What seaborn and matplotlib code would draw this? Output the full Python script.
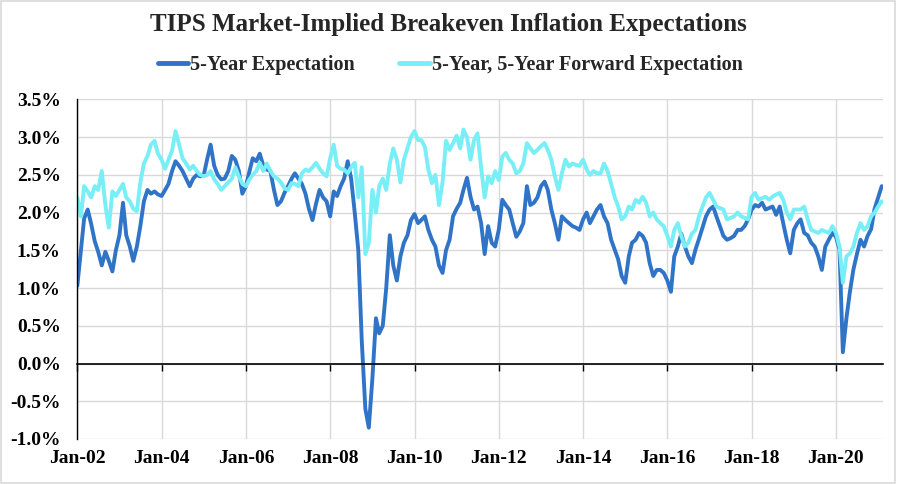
import matplotlib
matplotlib.use('Agg')
import pandas as pd
import matplotlib.pyplot as plt
import matplotlib.dates as mdates
from matplotlib.lines import Line2D
from matplotlib.patches import Rectangle
from matplotlib.ticker import FuncFormatter, MultipleLocator
import seaborn as sns

# Monthly readings (first of month), Jan 2002 - Feb 2021, in percent
five_year = [
    # 2002
    1.03, 1.50, 1.92, 2.04, 1.85, 1.62, 1.48, 1.30, 1.48, 1.36, 1.22, 1.50,
    # 2003
    1.70, 2.13, 1.70, 1.55, 1.36, 1.55, 1.82, 2.15, 2.30, 2.25, 2.28, 2.24,
    # 2004
    2.22, 2.30, 2.38, 2.55, 2.68, 2.62, 2.55, 2.45, 2.35, 2.45, 2.50, 2.48,
    # 2005
    2.50, 2.72, 2.90, 2.62, 2.50, 2.44, 2.45, 2.55, 2.75, 2.70, 2.55, 2.25,
    # 2006
    2.35, 2.55, 2.72, 2.68, 2.78, 2.62, 2.57, 2.55, 2.30, 2.10, 2.15, 2.26,
    # 2007
    2.35, 2.45, 2.52, 2.45, 2.38, 2.25, 2.05, 1.90, 2.12, 2.30, 2.20, 2.15,
    # 2008
    1.95, 2.28, 2.22, 2.35, 2.45, 2.68, 2.45, 2.00, 1.50, 0.30, -0.60, -0.85,
    # 2009
    -0.20, 0.60, 0.40, 0.50, 1.00, 1.70, 1.30, 1.10, 1.42, 1.60, 1.70, 1.90,
    # 2010
    1.98, 1.86, 1.90, 1.95, 1.77, 1.64, 1.55, 1.30, 1.20, 1.50, 1.64, 1.95,
    # 2011
    2.05, 2.13, 2.30, 2.46, 2.21, 2.04, 2.08, 1.86, 1.45, 1.82, 1.60, 1.55,
    # 2012
    1.77, 2.17, 2.10, 2.04, 1.86, 1.68, 1.75, 1.86, 2.35, 2.10, 2.13, 2.20,
    # 2013
    2.35, 2.41, 2.30, 2.04, 1.86, 1.64, 1.95, 1.90, 1.86, 1.82, 1.80, 1.77,
    # 2014
    1.91, 2.00, 1.86, 1.95, 2.04, 2.10, 1.95, 1.86, 1.64, 1.51, 1.38, 1.16,
    # 2015
    1.07, 1.42, 1.60, 1.64, 1.73, 1.69, 1.60, 1.33, 1.16, 1.24, 1.24, 1.20,
    # 2016
    1.10, 0.95, 1.42, 1.55, 1.72, 1.55, 1.42, 1.33, 1.51, 1.65, 1.80, 1.95,
    # 2017
    2.04, 2.08, 1.95, 1.82, 1.69, 1.64, 1.66, 1.69, 1.77, 1.77, 1.82, 1.91,
    # 2018
    2.04, 2.10, 2.08, 2.13, 2.04, 2.06, 2.08, 1.97, 2.08, 1.86, 1.64, 1.46,
    # 2019
    1.77, 1.86, 1.91, 1.73, 1.70, 1.60, 1.55, 1.42, 1.24, 1.55, 1.64, 1.73,
    # 2020
    1.68, 1.51, 0.15, 0.60, 0.95, 1.25, 1.45, 1.64, 1.55, 1.69, 1.78, 2.05,
    # 2021
    2.20, 2.35,
]

five_five_fwd = [
    # 2002
    2.20, 1.95, 2.35, 2.28, 2.20, 2.35, 2.30, 2.55, 2.10, 1.80, 2.28, 2.22,
    # 2003
    2.30, 2.38, 2.20, 2.15, 2.05, 2.02, 2.40, 2.65, 2.75, 2.90, 2.95, 2.78,
    # 2004
    2.70, 2.58, 2.70, 2.82, 3.08, 2.90, 2.72, 2.65, 2.57, 2.62, 2.55, 2.50,
    # 2005
    2.48, 2.50, 2.55, 2.44, 2.38, 2.30, 2.35, 2.40, 2.45, 2.60, 2.48, 2.38,
    # 2006
    2.35, 2.44, 2.50, 2.55, 2.66, 2.55, 2.65, 2.55, 2.48, 2.45, 2.40, 2.32,
    # 2007
    2.30, 2.39, 2.38, 2.35, 2.52, 2.57, 2.55, 2.60, 2.66, 2.58, 2.52, 2.48,
    # 2008
    2.72, 2.90, 2.62, 2.58, 2.57, 2.52, 2.60, 2.66, 2.20, 2.60, 1.45, 1.60,
    # 2009
    2.30, 2.00, 2.35, 2.45, 2.30, 2.65, 2.85, 2.70, 2.40, 2.70, 2.85, 3.00,
    # 2010
    3.08, 2.96, 2.96, 2.87, 2.57, 2.39, 2.50, 2.10, 2.40, 2.95, 2.83, 2.92,
    # 2011
    3.02, 2.85, 3.10, 3.00, 2.70, 2.96, 3.05, 2.60, 2.20, 2.48, 2.39, 2.55,
    # 2012
    2.43, 2.74, 2.79, 2.70, 2.65, 2.52, 2.55, 2.65, 2.92, 2.85, 2.79, 2.83,
    # 2013
    2.88, 2.92, 2.83, 2.70, 2.48, 2.30, 2.52, 2.70, 2.61, 2.65, 2.63, 2.62,
    # 2014
    2.70, 2.57, 2.50, 2.55, 2.52, 2.52, 2.65, 2.55, 2.38, 2.21, 2.08, 1.91,
    # 2015
    1.95, 2.08, 2.04, 2.17, 2.13, 2.21, 2.13, 1.95, 2.00, 1.91, 1.86, 1.82,
    # 2016
    1.69, 1.55, 1.77, 1.86, 1.69, 1.55, 1.60, 1.72, 1.77, 1.95, 2.08, 2.20,
    # 2017
    2.26, 2.17, 2.08, 2.06, 2.04, 1.91, 1.93, 1.95, 2.00, 1.95, 1.93, 1.91,
    # 2018
    2.21, 2.26, 2.17, 2.19, 2.21, 2.17, 2.21, 2.24, 2.26, 2.17, 2.00, 1.91,
    # 2019
    2.04, 2.04, 2.04, 2.08, 1.91, 1.77, 1.75, 1.73, 1.77, 1.75, 1.73, 1.82,
    # 2020
    1.73, 1.55, 1.07, 1.42, 1.46, 1.55, 1.73, 1.86, 1.77, 1.82, 1.95, 2.00,
    # 2021
    2.08, 2.15,
]

series_names = ['5-Year Expectation', '5-Year, 5-Year Forward Expectation']
colors = ['#3074C8', '#78EEF6']
tick_years = list(range(2002, 2021, 2))

n = len(five_year)
dates = pd.date_range('2002-01-01', periods=n, freq='MS')
df = pd.DataFrame({
    'date': list(dates) * 2,
    'value': five_year + five_five_fwd,
    'series': [series_names[0]] * n + [series_names[1]] * n,
})

sns.set_theme(style='white')
plt.rcParams['font.family'] = ['Liberation Serif', 'DejaVu Serif']

fig = plt.figure(figsize=(8.97, 4.84), dpi=100)
ax = fig.add_axes([0.0862, 0.093, 0.8982, 0.7017])

sns.lineplot(data=df, x='date', y='value', hue='series', hue_order=series_names,
             palette=colors, linewidth=2.8, ax=ax, legend=False)

# axes ranges and grid
ax.set_ylim(-1.0, 3.5)
ax.set_xlim(pd.Timestamp('2002-01-01'), pd.Timestamp('2021-02-12'))
ax.yaxis.set_major_locator(MultipleLocator(0.5))
ax.yaxis.set_major_formatter(FuncFormatter(lambda v, p: f'{v:.1f}%'))
tick_pos = [mdates.date2num(pd.Timestamp(f'{y}-01-01')) for y in tick_years]
ax.set_xticks(tick_pos)
ax.grid(True, color='#d9d9d9', linewidth=1)
ax.set_axisbelow(True)
ax.set_xlabel('')
ax.set_ylabel('')

for s in ['top', 'right']:
    ax.spines[s].set_visible(False)
ax.spines['left'].set_color('black')
ax.spines['left'].set_linewidth(1)
ax.spines['bottom'].set_position(('data', 0))
ax.spines['bottom'].set_color('black')
ax.spines['bottom'].set_linewidth(1.2)

ax.tick_params(axis='x', direction='out', length=5, width=1, color='black',
               labelbottom=False, bottom=True)
ax.tick_params(axis='y', length=0, pad=12, labelsize=14, labelcolor='black')
for lab in ax.get_yticklabels():
    lab.set_fontweight('bold')

# date labels sit at the bottom of the plot, Excel style
sec = ax.secondary_xaxis(0)
sec.set_xticks(tick_pos)
sec.xaxis.set_major_formatter(mdates.DateFormatter('%b-%y'))
sec.tick_params(axis='x', length=0, pad=8, labelsize=14, labelcolor='black')
sec.spines['bottom'].set_visible(False)
for lab in sec.get_xticklabels():
    lab.set_fontweight('bold')

# legend above the plot
handles = [Line2D([], [], color=c, linewidth=3.5) for c in colors]
fig.legend(handles, series_names, loc='center', bbox_to_anchor=(0.502, 0.866),
           ncol=2, frameon=False, handlelength=1.5, handletextpad=0.1,
           columnspacing=2.2, prop={'weight': 'bold', 'size': 14.5})

fig.text(0.5, 1 - 25 / 484, 'TIPS Market-Implied Breakeven Inflation Expectations',
         ha='center', va='center', fontsize=18, fontweight='bold')

fig.patches.append(Rectangle((0.001, 0.002), 0.997, 0.996, transform=fig.transFigure,
                             fill=False, edgecolor='#d9d9d9', linewidth=1.2))

fig.savefig('out.png', dpi=100)
